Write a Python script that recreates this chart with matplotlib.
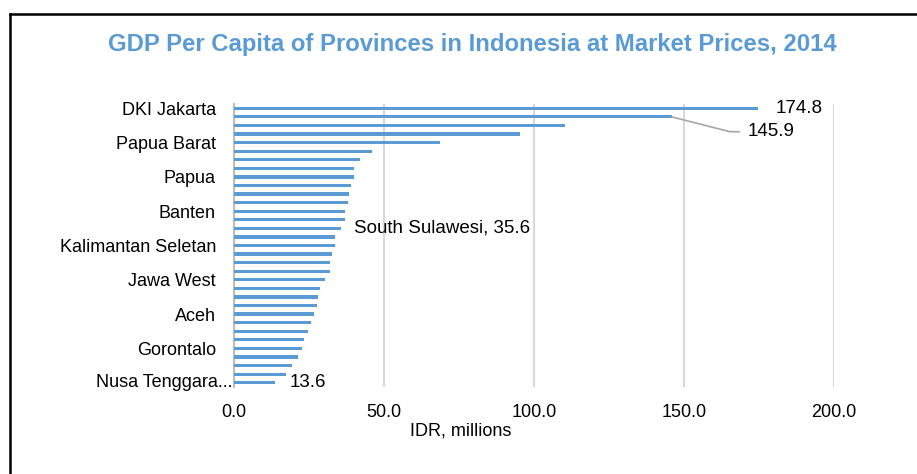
import matplotlib
matplotlib.use("Agg")
import matplotlib.pyplot as plt
from matplotlib import font_manager
from matplotlib.lines import Line2D
import matplotlib.transforms as mtransforms

# Data (top to bottom)
provinces = [
    "DKI Jakarta", "Kalimantan Timur", "Kepulauan Riau", "Riau", "Papua Barat",
    "Kalimantan Utara", "Jawa Timur", "Bangka Belitung", "Papua", "Sumatera Utara",
    "Sumatera Selatan", "Kalimantan Tengah", "Banten", "Sulawesi Tengah", "South Sulawesi",
    "Jambi", "Kalimantan Seletan", "Sumatera Barat", "Bali", "Sulawesi Utara",
    "Jawa West", "Sulawesi Tenggara", "Kalimantan Barat", "Jawa Tengah", "Aceh",
    "Bengkulu", "Sulawesi Barat", "Lampung", "Gorontalo", "DI Yogyakarta",
    "Nusa Tenggara Barat", "Maluku", "Nusa Tenggara Timur",
]
gdp = [
    174.8, 145.9, 110.3, 95.3, 68.7, 46.1, 42.0, 39.9, 39.9, 38.9,
    38.2, 38.0, 37.0, 36.9, 35.6, 33.7, 33.7, 32.6, 32.1, 31.9,
    30.2, 28.8, 27.9, 27.7, 26.6, 25.7, 24.6, 23.3, 22.7, 21.2,
    19.2, 17.2, 13.6,
]
shown_labels = {0: "DKI Jakarta", 4: "Papua Barat", 8: "Papua", 12: "Banten",
                16: "Kalimantan Seletan", 20: "Jawa West", 24: "Aceh", 28: "Gorontalo"}
xticks = [0, 50, 100, 150, 200]

names = {f.name for f in font_manager.fontManager.ttflist}
narrow = "Liberation Sans Narrow" if "Liberation Sans Narrow" in names else "Liberation Sans"

blue = "#5B9BD5"
fig = plt.figure(figsize=(9.17, 4.74), dpi=100)
ax = fig.add_axes([234 / 917, 1 - 387 / 474, 600 / 917, 283 / 474])

ypos = list(range(len(gdp)))
ax.barh(ypos, gdp, height=0.38, color=blue, zorder=3)
ax.set_ylim(len(gdp) - 0.5, -0.5)
ax.set_xlim(0, 200)

ax.set_xticks(xticks)
ax.set_xticklabels([f"{v:.1f}" for v in xticks], fontsize=13, family=narrow)
ax.set_yticks(list(shown_labels.keys()))
ax.set_yticklabels(list(shown_labels.values()), fontsize=13, family=narrow)
ax.tick_params(axis="both", length=0)
ax.tick_params(axis="y", pad=13)
ax.tick_params(axis="x", pad=12)
ax.grid(axis="x", color="#D9D9D9", lw=1.5, zorder=0)
for s in ["top", "right", "bottom"]:
    ax.spines[s].set_visible(False)
ax.spines["left"].set_color("#BFBFBF")
ax.spines["left"].set_linewidth(1.5)

# truncated last label
trans = mtransforms.blended_transform_factory(ax.transAxes, ax.transData)
ax.text(-0.003, 32, "Nusa Tenggara...", transform=trans, ha="right", va="center",
        fontsize=13, family=narrow)

# data labels
ax.text(180.7, 0.05, "174.8", va="center", ha="left", fontsize=13.5, family=narrow)
ax.text(171.3, 2.73, "145.9", va="center", ha="left", fontsize=13.5, family=narrow)
ax.plot([145.9, 165.3, 168.4], [1, 2.73, 2.73], color="#A6A6A6", lw=1.2, zorder=4,
        clip_on=False)
ax.text(40, 14, "South Sulawesi, 35.6", va="center", ha="left", fontsize=13.5, family=narrow)
ax.text(18.7, 32, "13.6", va="center", ha="left", fontsize=13.5, family=narrow)

fig.text(461 / 917, 1 - 431 / 474, "IDR, millions", ha="center", va="center",
         fontsize=13, family=narrow)
fig.text(472 / 917, 1 - 44 / 474,
         "GDP Per Capita of Provinces in Indonesia at Market Prices, 2014",
         ha="center", va="center", fontsize=17.2, fontweight="bold",
         color=blue, family="Liberation Sans")

# outer frame (left and top edges)
fig.add_artist(Line2D([9.5 / 917, 9.5 / 917], [0, 1 - 13.5 / 474], color="black", lw=1.8,
                      transform=fig.transFigure))
fig.add_artist(Line2D([9.5 / 917, 1], [1 - 13.5 / 474, 1 - 13.5 / 474], color="black", lw=1.8,
                      transform=fig.transFigure))

fig.savefig("out.png", dpi=100)
